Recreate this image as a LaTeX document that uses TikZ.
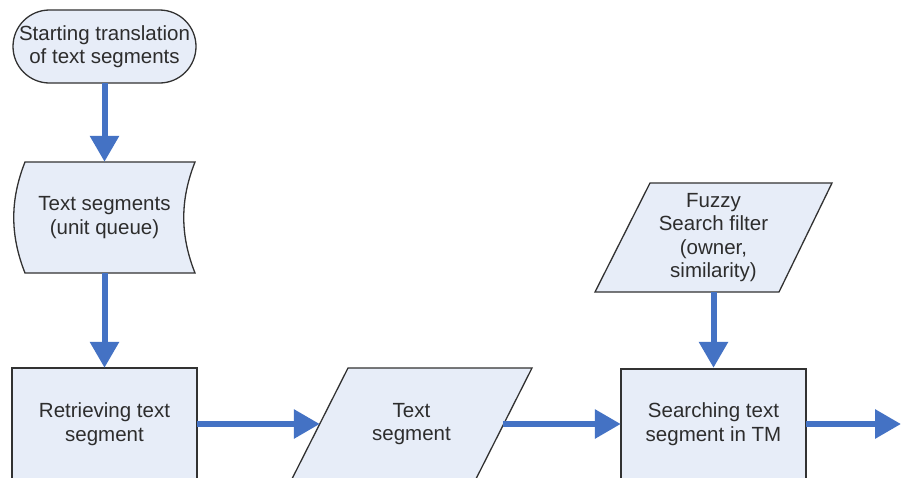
\documentclass[tikz,border=0pt]{standalone}
\usepackage{fontspec}
\setmainfont{Liberation Sans}
\usetikzlibrary{arrows.meta,calc}
\definecolor{arrowblue}{RGB}{68,114,196}
\definecolor{boxfill}{RGB}{231,237,248}
\definecolor{boxline}{RGB}{50,50,50}
\definecolor{txt}{RGB}{45,45,45}
\begin{document}
\begin{tikzpicture}[x=1pt,y=-1pt,
  shapebox/.style={draw=boxline, fill=boxfill, line width=1.3pt},
  lbl/.style={text=txt, font=\fontsize{20.5}{23.5}\selectfont, align=center, inner sep=0pt},
  flow/.style={draw=arrowblue, line width=6pt, -{Triangle[length=26pt,width=28pt]}}]
\useasboundingbox (0,0) rectangle (901,477);
\fill[white] (0,0) rectangle (901,477);
% shapes
\draw[shapebox, rounded corners=36.5pt] (13,10) rectangle (196,83);
\draw[shapebox] (25,162) -- (195,162) .. controls (180,200) and (180,235) .. (195,273) -- (25,273) .. controls (10,235) and (10,200) .. (25,162) -- cycle;
\draw[shapebox] (12,368) rectangle (197,484);
\draw[shapebox] (348,368) -- (532,368) -- (473.4,484) -- (289.4,484) -- cycle;
\draw[shapebox] (650,183) -- (832,183) -- (779,292) -- (595,292) -- cycle;
\draw[shapebox] (621,369) rectangle (806,484);
% nodes
\node[lbl, minimum width=183pt, minimum height=73pt] (start) at (104.5,46.5) {Starting translation\\of text segments};
\node[lbl, minimum width=181pt, minimum height=111pt] (queue) at (104.5,217.5) {Text segments\\(unit queue)};
\node[lbl, minimum width=185pt, minimum height=112pt] (retr) at (104.5,424) {Retrieving text\\segment};
\node[lbl, minimum width=240pt, minimum height=112pt] (ts) at (411.5,424) {Text\\segment};
\node[lbl, minimum width=238pt, minimum height=109pt] (fuzzy) at (713.5,237.5) {Fuzzy\\Search filter\\(owner,\\similarity)};
\node[lbl, minimum width=185pt, minimum height=112pt] (search) at (713.5,424) {Searching text\\segment in TM};
\coordinate (exit) at (901,424);
% connectors
\draw[flow] (start.south) -- (queue.north);
\draw[flow] (queue.south) -- (retr.north);
\draw[flow] (retr.east) -- ($(ts.west)+(28.5,0)$);
\draw[flow] ($(ts.east)-(28.5,0)$) -- (search.west);
\draw[flow] (fuzzy.south) -- (search.north);
\draw[flow] (search.east) -- (exit);
\end{tikzpicture}
\end{document}
